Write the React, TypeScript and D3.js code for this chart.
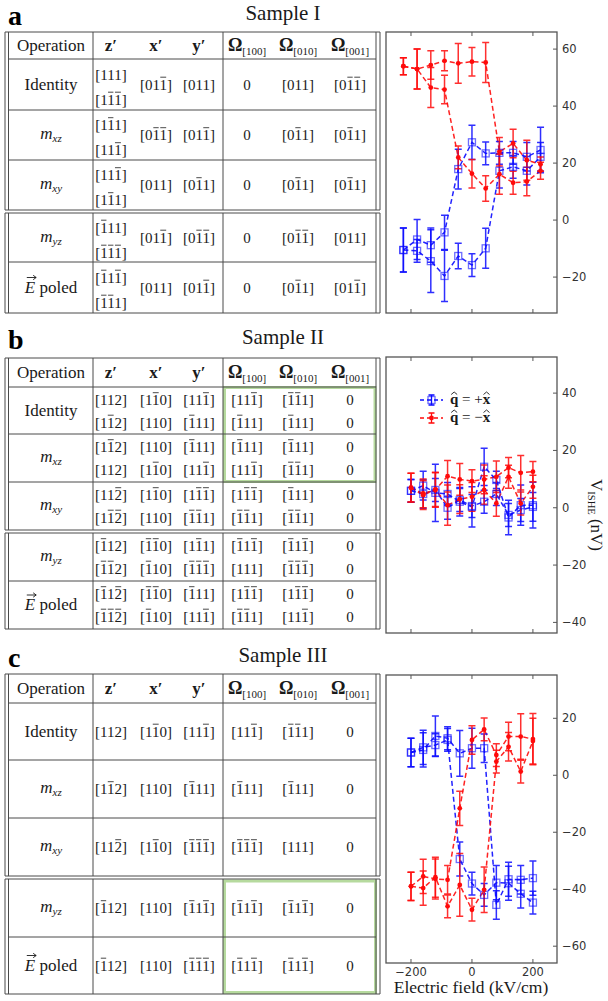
import React, { useRef, useEffect } from 'react';
import * as d3 from 'd3';

const W = 608;
const H = 1001;

// electric field values (kV/cm)
const fieldA = [-225, -180, -135, -90, -45, 0, 45, 90, 135, 180, 225];
const fieldBC = [-200, -160, -120, -80, -40, 0, 40, 80, 120, 160, 200];

// Sample I  (V_ISHE, nV)
const aBlue1 = [-10.5, -6.8, -8.8, -4.3, 17.9, 27.3, 23.4, 23.6, 23.6, 22.2, 24.6];
const aBlue1Err = [7.7, 7, 6, 6, 7, 6, 4, 4, 4, 5, 8];
const aBlue2 = [-10.5, -10.8, -14.4, -19.6, -12.6, -15.8, -9.9, 17.3, 18.7, 17.3, 22.2];
const aBlue2Err = [7.7, 4, 11, 9, 4.5, 4, 7, 6, 4, 5, 5];
const aRed1 = [54, 53, 54.4, 55.9, 55, 55.6, 55.3, 24, 26.9, 21, 19.6];
const aRed1Err = [3, 7, 5, 3.5, 7, 5, 7, 5, 5, 7, 2.5];
const aRed2 = [54, 53, 46.5, 45.8, 22, 16.3, 11.1, 16.1, 13.1, 13.5, 17.3];
const aRed2Err = [3, 7, 7, 5, 4, 5, 4.5, 7, 4, 5, 3];

// Sample II
const bBlue1 = [5.9, 7.7, 5.2, 4.8, 2.1, 0.3, 14.3, 9.7, -3.4, 0.9, 0.9];
const bBlue1Err = [4, 5, 10, 4, 5, 7, 6.5, 3, 6, 7, 8];
const bBlue2 = [5.9, 4.8, 6.2, 0, 2.7, 0.6, 2.1, 4.8, -2.5, -0.8, 0.3];
const bBlue2Err = [4, 5, 4, 4, 4, 4, 4, 4, 4, 4, 5];
const bRed1 = [7.0, 5.0, 6.2, 11.0, 9.9, 9.3, 9.9, 10.8, 14.0, 12.2, 12.6];
const bRed1Err = [5, 5, 6, 5.5, 5.5, 4, 5, 5.5, 3.5, 6, 3.5];
const bRed2 = [7.0, 4.4, 6.4, 0.9, 3.0, 3.8, 6.2, 1.5, 10.8, 1.5, 7.3];
const bRed2Err = [5, 5, 6, 7, 5, 5, 5, 4.5, 4, 4, 4];

// Sample III
const cBlue1 = [8.0, 9.8, 10.6, 12.4, -29.4, -38, -42, -37.7, -37.9, -41.6, -44.7];
const cBlue1Err = [5, 6, 4, 4, 6, 4, 4, 6, 6, 5, 4];
const cBlue2 = [8.0, 8.9, 13.8, 13, 7.7, 9.5, 9.5, -45.5, -36.5, -36.7, -36.1];
const cBlue2Err = [5, 6, 7, 4, 8, 7, 5, 5, 6, 5, 6];
const cRed1 = [-39, -35.5, -36.4, -36.7, -11.6, 12.4, 16.1, 7.1, 13.6, 13.6, 12.7];
const cRed1Err = [5, 6, 7, 5, 6, 5, 4, 4, 5, 8, 9];
const cRed2 = [-39, -39.6, -35.8, -46, -38.5, -47.2, -40.2, 4.8, 10, 1.3, 12];
const cRed2Err = [5, 6, 7, 4, 11, 4, 8, 4, 5, 4, 8];

const xTicks = [-200, 0, 200];
const yTicksA = [-20, 0, 20, 40, 60];
const yTicksB = [-40, -20, 0, 20, 40];
const yTicksC = [-60, -40, -20, 0, 20];

// tables: "-" marks an overlined digit
const operations = ['Identity', 'mxz', 'mxy', 'myz', 'Epoled'];
const headerCols = ['z', 'x', 'y', '[100]', '[010]', '[001]'];
// Sample I: zTop, zBottom, x', y', Ω100, Ω010, Ω001
const tableA = [
  ['[111]', '[1-1-1]', '[01-1]', '[011]', '0', '[011]', '[0-1-1]'],
  ['[1-11]', '[11-1]', '[0-1-1]', '[01-1]', '0', '[0-11]', '[0-11]'],
  ['[11-1]', '[1-11]', '[011]', '[0-11]', '0', '[0-11]', '[0-11]'],
  ['[-111]', '[-1-1-1]', '[01-1]', '[0-1-1]', '0', '[0-1-1]', '[011]'],
  ['[-11-1]', '[-1-11]', '[011]', '[01-1]', '0', '[0-11]', '[01-1]'],
];
// Sample II: two lines per operation
const tableB = [
  [['[112]', '[1-10]', '[11-1]', '[11-1]', '[-1-11]', '0'], ['[1-12]', '[110]', '[-111]', '[-111]', '[-111]', '0']],
  [['[1-12]', '[110]', '[-111]', '[-111]', '[-111]', '0'], ['[112]', '[1-10]', '[11-1]', '[11-1]', '[-1-11]', '0']],
  [['[11-2]', '[1-10]', '[1-1-1]', '[1-1-1]', '[-111]', '0'], ['[1-1-2]', '[110]', '[-1-11]', '[-1-11]', '[-1-11]', '0']],
  [['[-112]', '[-1-10]', '[1-11]', '[-11-1]', '[-11-1]', '0'], ['[-1-12]', '[-110]', '[-1-1-1]', '[111]', '[-1-1-1]', '0']],
  [['[-11-2]', '[-1-10]', '[-111]', '[1-1-1]', '[1-1-1]', '0'], ['[-1-1-2]', '[-110]', '[11-1]', '[-1-11]', '[11-1]', '0']],
];
// Sample III
const tableC = [
  ['[112]', '[1-10]', '[11-1]', '[11-1]', '[-1-11]', '0'],
  ['[1-12]', '[110]', '[-111]', '[-111]', '[-111]', '0'],
  ['[11-2]', '[1-10]', '[-1-1-1]', '[-1-1-1]', '[111]', '0'],
  ['[-112]', '[110]', '[-11-1]', '[-11-1]', '[-11-1]', '0'],
  ['[-112]', '[110]', '[-1-1-1]', '[-11-1]', '[-11-1]', '0'],
];

const SERIF = "'Liberation Serif', 'Times New Roman', serif";
const SANS = "'DejaVu Sans', sans-serif";
const INK = '#1a1a1a';
const RULE = '#4a4a4a';
const BLUE = '#0a0aff';
const RED = '#ff0a0a';
const GREEN = '#b6da9e';

const COLS = [51, 111, 156, 199, 247, 298, 350];

function mathText(g, x, y, s, size) {
  const chars = [];
  const bars = [];
  for (const ch of s) {
    if (ch === '-') { bars.push(chars.length); continue; }
    chars.push(ch);
  }
  const t = g.append('text')
    .attr('x', x).attr('y', y)
    .attr('text-anchor', 'middle')
    .attr('font-family', SERIF)
    .attr('font-size', size)
    .attr('fill', INK)
    .text(chars.join(''));
  const node = t.node();
  bars.forEach(i => {
    const e = node.getExtentOfChar(i);
    g.append('line')
      .attr('x1', e.x + 0.8).attr('x2', e.x + e.width - 0.8)
      .attr('y1', y - size * 0.82).attr('y2', y - size * 0.82)
      .attr('stroke', INK).attr('stroke-width', 0.8);
  });
}

function opLabel(g, name, cx, cy) {
  const base = cy + 5;
  if (name === 'Identity') {
    g.append('text').attr('x', cx).attr('y', base).attr('text-anchor', 'middle')
      .attr('font-family', SERIF).attr('font-size', 17).attr('fill', INK).text('Identity');
  } else if (name === 'Epoled') {
    const t = g.append('text').attr('x', cx).attr('y', base).attr('text-anchor', 'middle')
      .attr('font-family', SERIF).attr('font-size', 17).attr('fill', INK);
    t.append('tspan').attr('font-style', 'italic').text('E');
    t.append('tspan').text(' poled');
    const e = t.node().getExtentOfChar(0);
    const ay = base - 15;
    const x1 = e.x + 2, x2 = e.x + e.width + 1;
    g.append('path')
      .attr('d', `M${x1},${ay}H${x2}M${x2 - 3},${ay - 2.2}L${x2},${ay}L${x2 - 3},${ay + 2.2}`)
      .attr('stroke', INK).attr('stroke-width', 0.9).attr('fill', 'none');
  } else {
    const t = g.append('text').attr('x', cx).attr('y', base - 1).attr('text-anchor', 'middle')
      .attr('font-family', SERIF).attr('font-size', 17).attr('fill', INK).attr('font-style', 'italic');
    t.append('tspan').text('m');
    t.append('tspan').attr('font-size', 11).attr('dy', 3).text(name.slice(1));
  }
}

function header(g, cy) {
  const base = cy + 5;
  g.append('text').attr('x', COLS[0]).attr('y', base).attr('text-anchor', 'middle')
    .attr('font-family', SERIF).attr('font-size', 17).attr('fill', INK).text('Operation');
  headerCols.forEach((h, i) => {
    const t = g.append('text').attr('x', COLS[i + 1]).attr('y', base).attr('text-anchor', 'middle')
      .attr('font-family', SERIF).attr('fill', INK);
    if (i < 3) {
      t.attr('font-size', 17).attr('font-weight', 'bold').text(h + '\u2032');
    } else {
      t.append('tspan').attr('font-size', 18).attr('font-weight', 'bold').text('\u03A9');
      t.append('tspan').attr('font-size', 11).attr('dy', 4).text(h);
    }
  });
}

function tableFrame(g, top, head, rows) {
  const L1 = 5, L2 = 8.5, R1 = 376, R2 = 380, C1 = 93, C2 = 223;
  const ln = (x1, y1, x2, y2) => g.append('line')
    .attr('x1', x1).attr('y1', y1).attr('x2', x2).attr('y2', y2)
    .attr('stroke', RULE).attr('stroke-width', 1);
  const boxes = [[top, rows[2][1]], [rows[3][0], rows[4][1]]];
  boxes.forEach(([t, b]) => {
    [L1, L2, R1, R2, C1, C2].forEach(x => ln(x, t, x, b));
    ln(L1, t, R2, t);
    ln(L1, b, R2, b);
  });
  ln(L2, head, R1, head);
  [0, 1, 3].forEach(i => ln(L2, rows[i][1], R1, rows[i][1]));
}

function drawPlot(svg, o) {
  const g = svg.append('g');
  const x = d3.scaleLinear().domain([-282, 279]).range([386, 557]);
  const y = d3.scaleLinear().domain(o.yDomain).range([o.bottom, o.top]);

  g.append('rect').attr('x', 386).attr('y', o.top).attr('width', 171).attr('height', o.bottom - o.top)
    .attr('fill', 'none').attr('stroke', '#555').attr('stroke-width', 1.3);

  xTicks.forEach(v => {
    g.append('line').attr('x1', x(v)).attr('x2', x(v)).attr('y1', o.top).attr('y2', o.top + 4)
      .attr('stroke', '#555').attr('stroke-width', 1);
    g.append('line').attr('x1', x(v)).attr('x2', x(v)).attr('y1', o.bottom).attr('y2', o.bottom - 4)
      .attr('stroke', '#555').attr('stroke-width', 1);
    if (o.xLabels) {
      g.append('text').attr('x', x(v)).attr('y', o.bottom + 13).attr('text-anchor', 'middle')
        .attr('font-family', SANS).attr('font-size', 11.5).attr('fill', '#333')
        .text(String(v).replace('-', '\u2212'));
    }
  });
  o.yTicks.forEach(v => {
    g.append('line').attr('x1', 557).attr('x2', 553).attr('y1', y(v)).attr('y2', y(v))
      .attr('stroke', '#555').attr('stroke-width', 1);
    g.append('text').attr('x', 562).attr('y', y(v) + 4).attr('font-family', SANS)
      .attr('font-size', 11.5).attr('fill', '#333').text(String(v).replace('-', '\u2212'));
  });

  const line = d3.line().x(d => x(d[0])).y(d => y(d[1]));
  o.series.forEach(s => {
    const pts = o.field.map((f, i) => [f, s.v[i]]);
    g.append('path').attr('d', line(pts)).attr('fill', 'none').attr('stroke', s.color)
      .attr('stroke-width', 1.5).attr('stroke-dasharray', '5,3').attr('opacity', 0.9);
  });
  o.series.forEach(s => {
    o.field.forEach((f, i) => {
      const cx = x(f), y1 = y(s.v[i] - s.e[i]), y2 = y(s.v[i] + s.e[i]);
      g.append('path').attr('d', `M${cx},${y1}V${y2}M${cx - 3.5},${y1}H${cx + 3.5}M${cx - 3.5},${y2}H${cx + 3.5}`)
        .attr('stroke', s.color).attr('stroke-width', 1.5).attr('fill', 'none').attr('opacity', 0.85);
    });
  });
  o.series.forEach(s => {
    o.field.forEach((f, i) => {
      if (s.marker === 'square') {
        g.append('rect').attr('x', x(f) - 3.5).attr('y', y(s.v[i]) - 3.5).attr('width', 7).attr('height', 7)
          .attr('fill', 'none').attr('stroke', s.color).attr('stroke-width', 1.3).attr('opacity', 0.6);
      } else {
        g.append('circle').attr('cx', x(f)).attr('cy', y(s.v[i])).attr('r', 2.4).attr('fill', s.color);
      }
    });
  });
  return g;
}

function legend(svg) {
  const g = svg.append('g');
  const items = [
    { color: BLUE, marker: 'square', sign: '+', cy: 400 },
    { color: RED, marker: 'dot', sign: '\u2212', cy: 418 },
  ];
  items.forEach(it => {
    g.append('line').attr('x1', 420).attr('x2', 443).attr('y1', it.cy).attr('y2', it.cy)
      .attr('stroke', it.color).attr('stroke-width', 1.5).attr('stroke-dasharray', '4,3');
    g.append('path').attr('d', `M431.5,${it.cy - 5}V${it.cy + 5}M428.5,${it.cy - 5}H434.5M428.5,${it.cy + 5}H434.5`)
      .attr('stroke', it.color).attr('stroke-width', 1.3).attr('fill', 'none');
    if (it.marker === 'square') {
      g.append('rect').attr('x', 428).attr('y', it.cy - 3.5).attr('width', 7).attr('height', 7)
        .attr('fill', 'none').attr('stroke', it.color).attr('stroke-width', 1.3).attr('opacity', 0.6);
    } else {
      g.append('circle').attr('cx', 431.5).attr('cy', it.cy).attr('r', 2.4).attr('fill', it.color);
    }
    const t = g.append('text').attr('x', 450).attr('y', it.cy + 4).attr('font-family', SERIF)
      .attr('font-size', 15).attr('fill', INK);
    t.append('tspan').attr('font-weight', 'bold').text('q');
    t.append('tspan').text(' = ' + it.sign);
    t.append('tspan').attr('font-weight', 'bold').text('x');
    const node = t.node();
    [0, node.getNumberOfChars() - 1].forEach(i => {
      const e = node.getExtentOfChar(i);
      const cx = e.x + e.width / 2, ty = it.cy + 4 - 11;
      g.append('path').attr('d', `M${cx - 3},${ty + 1.5}L${cx},${ty - 1}L${cx + 3},${ty + 1.5}`)
        .attr('stroke', INK).attr('stroke-width', 0.9).attr('fill', 'none');
    });
  });
}

export default function App() {
  const ref = useRef(null);

  useEffect(() => {
    const svg = d3.select(ref.current);
    svg.selectAll('*').remove();

    const title = (letter, sample, base) => {
      svg.append('text').attr('x', 8).attr('y', base + 5).attr('font-family', SERIF)
        .attr('font-size', 28).attr('font-weight', 'bold').attr('fill', '#000').text(letter);
      svg.append('text').attr('x', 283).attr('y', base).attr('text-anchor', 'middle')
        .attr('font-family', SERIF).attr('font-size', 21).attr('fill', INK).text(sample);
    };
    title('a', 'Sample I', 20);
    title('b', 'Sample II', 344);
    title('c', 'Sample III', 662);

    // ---- table a
    const gA = svg.append('g');
    const rowsA = [[59, 110], [110, 160], [160, 210], [213, 262], [262, 313]];
    tableFrame(gA, 32, 59, rowsA);
    header(gA, 45.5);
    tableA.forEach((r, i) => {
      const [t, b] = rowsA[i];
      const c = (t + b) / 2;
      opLabel(gA, operations[i], COLS[0], c);
      mathText(gA, COLS[1], c - 5, r[0], 15);
      mathText(gA, COLS[1], c + 20, r[1], 15);
      r.slice(2).forEach((v, j) => mathText(gA, COLS[j + 2], c + 5, v, 15));
    });

    // ---- table b
    const gB = svg.append('g');
    const rowsB = [[387, 434], [434, 482], [482, 530], [533, 581], [581, 629]];
    gB.append('rect').attr('x', 224.5).attr('y', 387.5).attr('width', 150.5).attr('height', 94)
      .attr('fill', 'none').attr('stroke', GREEN).attr('stroke-width', 3);
    tableFrame(gB, 358, 387, rowsB);
    header(gB, 372.5);
    tableB.forEach((r, i) => {
      const [t, b] = rowsB[i];
      opLabel(gB, operations[i], COLS[0], (t + b) / 2);
      r.forEach((lineVals, k) => {
        lineVals.forEach((v, j) => mathText(gB, COLS[j + 1], t + 18 + k * 22.5, v, 15));
      });
    });

    // ---- table c
    const gC = svg.append('g');
    const rowsC = [[703, 760], [760, 818], [818, 876], [879, 937], [937, 994]];
    gC.append('rect').attr('x', 224.5).attr('y', 881).attr('width', 151).attr('height', 111.5)
      .attr('fill', 'none').attr('stroke', GREEN).attr('stroke-width', 3);
    tableFrame(gC, 674, 703, rowsC);
    header(gC, 688.5);
    tableC.forEach((r, i) => {
      const [t, b] = rowsC[i];
      const c = (t + b) / 2;
      opLabel(gC, operations[i], COLS[0], c);
      r.forEach((v, j) => mathText(gC, COLS[j + 1], c + 5, v, 15));
    });

    // ---- plots
    drawPlot(svg, {
      top: 32, bottom: 313, yDomain: [-32.6, 66], yTicks: yTicksA, field: fieldA, xLabels: false,
      series: [
        { v: aBlue1, e: aBlue1Err, color: BLUE, marker: 'square' },
        { v: aBlue2, e: aBlue2Err, color: BLUE, marker: 'square' },
        { v: aRed1, e: aRed1Err, color: RED, marker: 'dot' },
        { v: aRed2, e: aRed2Err, color: RED, marker: 'dot' },
      ],
    });
    drawPlot(svg, {
      top: 357, bottom: 633, yDomain: [-43.7, 52.6], yTicks: yTicksB, field: fieldBC, xLabels: false,
      series: [
        { v: bBlue1, e: bBlue1Err, color: BLUE, marker: 'square' },
        { v: bBlue2, e: bBlue2Err, color: BLUE, marker: 'square' },
        { v: bRed1, e: bRed1Err, color: RED, marker: 'dot' },
        { v: bRed2, e: bRed2Err, color: RED, marker: 'dot' },
      ],
    });
    drawPlot(svg, {
      top: 675, bottom: 963, yDomain: [-65.9, 35.2], yTicks: yTicksC, field: fieldBC, xLabels: true,
      series: [
        { v: cBlue1, e: cBlue1Err, color: BLUE, marker: 'square' },
        { v: cBlue2, e: cBlue2Err, color: BLUE, marker: 'square' },
        { v: cRed1, e: cRed1Err, color: RED, marker: 'dot' },
        { v: cRed2, e: cRed2Err, color: RED, marker: 'dot' },
      ],
    });
    legend(svg);

    // axis titles
    const yl = svg.append('text').attr('transform', 'translate(591,515) rotate(90)')
      .attr('text-anchor', 'middle').attr('font-family', SERIF).attr('font-size', 17).attr('fill', INK);
    yl.append('tspan').text('V');
    yl.append('tspan').attr('font-size', 10.5).attr('dy', 3).text('ISHE');
    yl.append('tspan').attr('dy', -3).text(' (nV)');
    svg.append('text').attr('x', 471).attr('y', 993).attr('text-anchor', 'middle')
      .attr('font-family', SERIF).attr('font-size', 17.5).attr('fill', INK).text('Electric field (kV/cm)');
  }, []);

  return (
    <svg ref={ref} width={W} height={H}
      style={{ position: 'absolute', left: 0, top: 0, background: '#fff' }} />
  );
}
